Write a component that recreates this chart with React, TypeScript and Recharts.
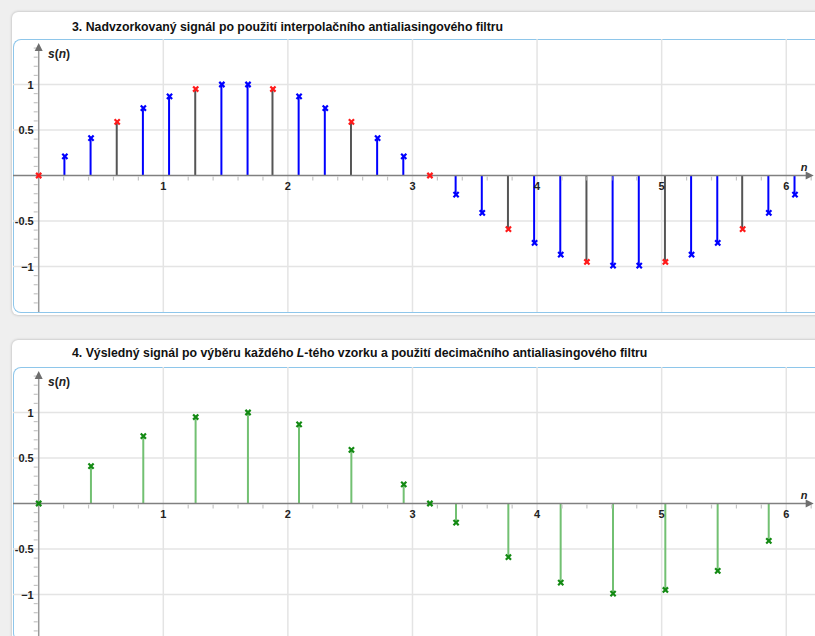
import React from 'react';
import {
  ComposedChart,
  Bar,
  Cell,
  Scatter,
  XAxis,
  YAxis,
  CartesianGrid,
  ReferenceLine,
  ReferenceDot
} from 'recharts';

// upsampled signal (panel 3)
const nUp = [
  0, 0.21, 0.42, 0.63, 0.84, 1.05, 1.26, 1.47, 1.68, 1.88,
  2.09, 2.3, 2.51, 2.72, 2.93, 3.14, 3.35, 3.56, 3.77, 3.98,
  4.19, 4.4, 4.61, 4.82, 5.03, 5.24, 5.45, 5.65, 5.86, 6.07
];
const sUp = [
  0, 0.21, 0.41, 0.59, 0.74, 0.87, 0.95, 1.0, 1.0, 0.95,
  0.87, 0.74, 0.59, 0.41, 0.21, 0, -0.21, -0.41, -0.59, -0.74,
  -0.87, -0.95, -0.99, -0.99, -0.95, -0.87, -0.74, -0.59, -0.41, -0.21
];
// indices of the original samples (red)
const origIdx = [0, 3, 6, 9, 12, 15, 18, 21, 24, 27];

// decimated signal (panel 4)
const nDec = [0, 0.42, 0.84, 1.26, 1.68, 2.09, 2.51, 2.93, 3.14, 3.35, 3.77, 4.19, 4.61, 5.03, 5.45, 5.86];
const sDec = [0, 0.41, 0.74, 0.95, 1.0, 0.87, 0.59, 0.21, 0, -0.21, -0.59, -0.87, -0.99, -0.95, -0.74, -0.41];

const xTicks = [1, 2, 3, 4, 5, 6];
const yTicks = [1, 0.5, -0.5, -1];
const yTickLabels = ['1', '0.5', '-0.5', '\u22121'];
const xMinor = [0.2, 0.4, 0.6, 0.8, 1.2, 1.4, 1.6, 1.8, 2.2, 2.4, 2.6, 2.8, 3.2, 3.4, 3.6, 3.8, 4.2, 4.4, 4.6, 4.8, 5.2, 5.4, 5.6, 5.8, 6.2];
const yMinor = [
  1.4, 1.3, 1.2, 1.1, 0.9, 0.8, 0.7, 0.6, 0.4, 0.3, 0.2, 0.1,
  -0.1, -0.2, -0.3, -0.4, -0.6, -0.7, -0.8, -0.9, -1.1, -1.2, -1.3, -1.4
];

const X_DOMAIN = [-0.2063, 6.2307];
const Y_DOMAIN = [-1.5, 1.5];
const CHART_W = 802;
const CHART_H = 273;
const FONT = '"Liberation Sans", Arial, sans-serif';

const xMark = (color: string) => (props: any) => {
  const { cx, cy } = props;
  if (cx == null || cy == null) return <g />;
  const r = 2.6;
  return (
    <path
      d={`M${cx - r},${cy - r}L${cx + r},${cy + r}M${cx + r},${cy - r}L${cx - r},${cy + r}`}
      stroke={color}
      strokeWidth={2.2}
      fill="none"
    />
  );
};

const textAt = (label: string, dx: number, dy: number, anchor: string, italic = false) => (props: any) => (
  <text
    x={props.cx + dx}
    y={props.cy + dy}
    textAnchor={anchor}
    dominantBaseline="central"
    fontFamily={FONT}
    fontSize={11}
    fontWeight="bold"
    fontStyle={italic ? 'italic' : 'normal'}
    fill="#222"
  >
    {label}
  </text>
);

const xTickShape = (props: any) => (
  <line x1={props.cx} y1={props.cy + 1} x2={props.cx} y2={props.cy + 5} stroke="#c4c4c4" strokeWidth={1.2} />
);
const yTickShape = (props: any) => (
  <line x1={props.cx - 5} y1={props.cy} x2={props.cx - 1} y2={props.cy} stroke="#c4c4c4" strokeWidth={1.2} />
);
const upArrow = (props: any) => (
  <path d={`M${props.cx},${props.cy}L${props.cx - 4},${props.cy + 8}L${props.cx + 4},${props.cy + 8}Z`} fill="#6e6e6e" />
);
const rightArrow = (props: any) => (
  <path d={`M${props.cx},${props.cy}L${props.cx - 8},${props.cy - 4}L${props.cx - 8},${props.cy + 4}Z`} fill="#6e6e6e" />
);
const sLabel = (props: any) => (
  <text x={props.cx} y={props.cy} dominantBaseline="central" fontFamily={FONT} fontSize={12} fontWeight="bold" fill="#222">
    <tspan fontStyle="italic">s</tspan>
    <tspan>(</tspan>
    <tspan fontStyle="italic">n</tspan>
    <tspan>)</tspan>
  </text>
);

interface StemChartProps {
  table: { n: number; s: number; red?: boolean }[];
  stemColor: (row: any) => string;
  markers: { data: { n: number; s: number }[]; color: string }[];
}

const StemChart: React.FC<StemChartProps> = ({ table, stemColor, markers }) => (
  <ComposedChart width={CHART_W} height={CHART_H} data={table} margin={{ top: 0, right: 0, bottom: 0, left: 0 }}>
    <XAxis type="number" dataKey="n" domain={X_DOMAIN} allowDataOverflow hide />
    <YAxis type="number" dataKey="s" domain={Y_DOMAIN} allowDataOverflow hide />
    <CartesianGrid horizontalValues={yTicks} verticalValues={xTicks} stroke="#e4e4e4" strokeWidth={1.5} />
    <ReferenceLine segment={[{ x: X_DOMAIN[0], y: 0 }, { x: 6.16, y: 0 }]} stroke="#808080" strokeWidth={1.5} />
    <ReferenceLine segment={[{ x: 0, y: -1.5 }, { x: 0, y: 1.4 }]} stroke="#9a9a9a" strokeWidth={1.5} />
    {xMinor.map((v) => (
      <ReferenceDot key={'xm' + v} x={v} y={0} shape={xTickShape} />
    ))}
    {yMinor.map((v) => (
      <ReferenceDot key={'ym' + v} x={0} y={v} shape={yTickShape} />
    ))}
    {xTicks.map((v) => (
      <ReferenceDot key={'xl' + v} x={v} y={0} shape={textAt(String(v), 0, 10, 'middle')} />
    ))}
    {yTicks.map((v, i) => (
      <ReferenceDot key={'yl' + v} x={0} y={v} shape={textAt(yTickLabels[i], -5, 0, 'end')} />
    ))}
    <ReferenceDot x={0} y={1.456} shape={upArrow} />
    <ReferenceDot x={6.22} y={0} shape={rightArrow} />
    <ReferenceDot x={0.075} y={1.33} shape={sLabel} />
    <ReferenceDot x={6.143} y={0.093} shape={textAt('n', 0, 0, 'middle', true)} />
    <Bar dataKey="s" barSize={2} isAnimationActive={false}>
      {table.map((row, i) => (
        <Cell key={i} fill={stemColor(row)} />
      ))}
    </Bar>
    {markers.map((m, i) => (
      <Scatter key={i} data={m.data} dataKey="s" shape={xMark(m.color)} isAnimationActive={false} />
    ))}
  </ComposedChart>
);

const upTable = nUp.map((n, i) => ({ n, s: sUp[i], red: origIdx.includes(i) }));
const redPts = upTable.filter((r) => r.red);
const bluePts = upTable.filter((r) => !r.red);
const decTable = nDec.map((n, i) => ({ n, s: sDec[i] }));

const Card: React.FC<{ top: number; height: number; titleTop: number; title: React.ReactNode; children: React.ReactNode }> = ({
  top,
  height,
  titleTop,
  title,
  children
}) => (
  <div
    style={{
      position: 'absolute',
      left: 12,
      top,
      width: 830,
      height,
      background: '#fff',
      borderRadius: 6,
      boxShadow: '0 0 3px rgba(0,0,0,0.28)'
    }}
  >
    <div
      style={{
        position: 'absolute',
        left: 60,
        top: titleTop,
        fontFamily: FONT,
        fontSize: 12.3,
        fontWeight: 'bold',
        lineHeight: '14px',
        color: '#111',
        whiteSpace: 'nowrap'
      }}
    >
      {title}
    </div>
    <div
      style={{
        position: 'absolute',
        left: 1,
        top: 27,
        width: 840,
        height: 274,
        boxSizing: 'border-box',
        border: '1.5px solid #8ec6ea',
        borderRight: 'none',
        borderRadius: '8px 0 0 8px'
      }}
    />
    <div style={{ position: 'absolute', left: 1, top: 27 }}>{children}</div>
  </div>
);

export default function App() {
  return (
    <div
      style={{
        position: 'fixed',
        left: 0,
        top: 0,
        width: 815,
        height: 636,
        overflow: 'hidden',
        background: '#efefef'
      }}
    >
      <Card top={12} height={303} titleTop={8} title="3. Nadvzorkovaný signál po použití interpolačního antialiasingového filtru">
        <StemChart
          table={upTable}
          stemColor={(r) => (r.red ? '#555555' : '#0000ff')}
          markers={[
            { data: bluePts, color: '#0000ff' },
            { data: redPts, color: '#ff1a1a' }
          ]}
        />
      </Card>
      <Card
        top={340}
        height={330}
        titleTop={6}
        title={
          <span>
            4. Výsledný signál po výběru každého <i>L</i>-tého vzorku a použití decimačního antialiasingového filtru
          </span>
        }
      >
        <StemChart table={decTable} stemColor={() => '#72c072'} markers={[{ data: decTable, color: '#138a13' }]} />
      </Card>
    </div>
  );
}
